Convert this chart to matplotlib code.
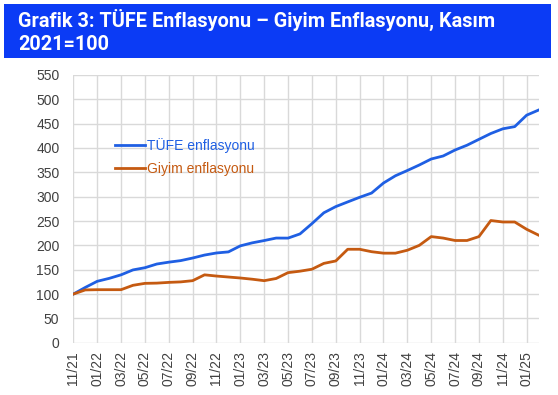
import matplotlib

matplotlib.use("Agg")
import matplotlib.pyplot as plt
from matplotlib.patches import Rectangle

plt.rcParams["font.family"] = ["Liberation Sans", "DejaVu Sans"]

# aylar: 11/21 - 02/25
months = [
    "11/21", "12/21",
    "01/22", "02/22", "03/22", "04/22", "05/22", "06/22",
    "07/22", "08/22", "09/22", "10/22", "11/22", "12/22",
    "01/23", "02/23", "03/23", "04/23", "05/23", "06/23",
    "07/23", "08/23", "09/23", "10/23", "11/23", "12/23",
    "01/24", "02/24", "03/24", "04/24", "05/24", "06/24",
    "07/24", "08/24", "09/24", "10/24", "11/24", "12/24",
    "01/25", "02/25",
]

tufe = [
    100.0, 113.6,
    126.2, 132.2, 139.5, 149.6, 154.1, 161.7,
    165.5, 168.7, 174.0, 180.1, 184.4, 186.6,
    199.0, 205.2, 209.9, 215.0, 214.9, 223.5,
    244.6, 266.9, 279.6, 289.2, 298.7, 307.4,
    328.0, 342.9, 353.7, 365.0, 377.3, 383.5,
    395.8, 405.6, 417.7, 429.7, 439.3, 443.8,
    467.3, 477.8,
]

giyim = [
    100.0, 108.5,
    109.0, 109.0, 109.0, 118.0, 122.0, 122.5,
    124.0, 125.0, 127.5, 139.5, 137.0, 135.0,
    133.0, 130.5, 127.5, 132.0, 144.0, 147.0,
    151.0, 163.0, 168.0, 192.0, 192.0, 187.0,
    184.0, 184.0, 190.0, 200.0, 218.0, 215.0,
    210.0, 210.0, 218.0, 251.0, 248.0, 248.0,
    233.0, 221.0,
]

c_tufe = "#1F5FE3"
c_giyim = "#C55A11"

fig = plt.figure(figsize=(5.58, 3.95), dpi=100)
ax = fig.add_axes([0.1314, 0.1322, 0.8338, 0.6782])

x = list(range(len(months)))
ax.plot(x, tufe, color=c_tufe, linewidth=2.0, label="TÜFE enflasyonu")
ax.plot(x, giyim, color=c_giyim, linewidth=2.0, label="Giyim enflasyonu")

ax.set_xlim(0, len(months) - 1)
ax.set_ylim(0, 550)
ax.set_yticks(range(0, 551, 50))
ax.set_xticks(x[::2])
ax.set_xticklabels(months[::2], rotation=90)
ax.tick_params(axis="both", length=0, labelsize=10, colors="#404040")
ax.tick_params(axis="y", pad=10)
ax.tick_params(axis="x", pad=6)
ax.grid(True, color="#d9d9d9", linewidth=1.0)
ax.set_axisbelow(True)
for s in ax.spines.values():
    s.set_visible(False)

leg = ax.legend(loc="upper left", bbox_to_anchor=(0.062, 0.81), frameon=False,
                fontsize=10, handlelength=2.2, handletextpad=0.15, labelspacing=0.65)
for txt, col in zip(leg.get_texts(), [c_tufe, c_giyim]):
    txt.set_color(col)

# başlık bandı
fig.patches.append(Rectangle((4 / 558, 1 - 58 / 395), 547 / 558, 54 / 395,
                             transform=fig.transFigure, facecolor="#0B3BF5",
                             edgecolor="none", zorder=0))
fig.text(18 / 558, 1 - 20 / 395, "Grafik 3: TÜFE Enflasyonu – Giyim Enflasyonu, Kasım",
         color="white", fontsize=14.3, fontweight="bold", va="center",
         family=["Roboto", "DejaVu Sans"])
fig.text(18 / 558, 1 - 44 / 395, "2021=100",
         color="white", fontsize=14.3, fontweight="bold", va="center",
         family=["Roboto", "DejaVu Sans"])

fig.savefig("out.png", dpi=100)
